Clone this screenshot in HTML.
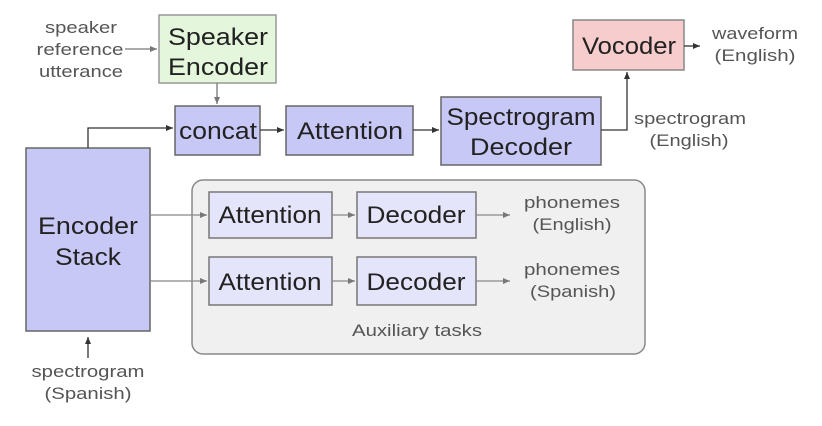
<!DOCTYPE html>
<html><head><style>
body{margin:0;background:#fff;}
svg text{font-family:"Liberation Sans",sans-serif;}
</style></head><body>
<svg width="822" height="421" viewBox="0 0 822 421" xmlns="http://www.w3.org/2000/svg">
<defs>
<marker id="a" markerWidth="8" markerHeight="8" refX="7" refY="4" orient="auto" markerUnits="userSpaceOnUse"><path d="M0,1 L7,4 L0,7 z" fill="#333"/></marker>
<marker id="g" markerWidth="8" markerHeight="8" refX="7" refY="4" orient="auto" markerUnits="userSpaceOnUse"><path d="M0,1 L7,4 L0,7 z" fill="#777"/></marker>
</defs>
<rect x="192" y="180" width="453" height="174" rx="11" fill="#f0f0f0" stroke="#888" stroke-width="1.5"/>
<rect x="159" y="15" width="117" height="68" fill="#e4f6dc" stroke="#999" stroke-width="1.5"/>
<rect x="175" y="106" width="85" height="49" fill="#c8c8f6" stroke="#666" stroke-width="1.5"/>
<rect x="286" y="106" width="127" height="49" fill="#c8c8f6" stroke="#666" stroke-width="1.5"/>
<rect x="441" y="97" width="160" height="68" fill="#c8c8f6" stroke="#666" stroke-width="1.5"/>
<rect x="573" y="20" width="111" height="50" fill="#f6cccc" stroke="#888" stroke-width="1.5"/>
<rect x="26" y="148" width="124" height="183" fill="#c8c8f6" stroke="#666" stroke-width="1.5"/>
<rect x="209" y="192" width="123" height="46" fill="#e4e4fa" stroke="#777" stroke-width="1.5"/>
<rect x="357" y="192" width="119" height="46" fill="#e4e4fa" stroke="#777" stroke-width="1.5"/>
<rect x="209" y="257" width="123" height="48" fill="#e4e4fa" stroke="#777" stroke-width="1.5"/>
<rect x="357" y="257" width="119" height="48" fill="#e4e4fa" stroke="#777" stroke-width="1.5"/>
<g fill="none" stroke-width="1.3">
<path d="M125,49 H157" stroke="#777" marker-end="url(#g)"/>
<path d="M217,83 V104" stroke="#777" marker-end="url(#g)"/>
<path d="M88,148 V128 H173" stroke="#333" marker-end="url(#a)"/>
<path d="M260,130 H284" stroke="#333" marker-end="url(#a)"/>
<path d="M413,130 H439" stroke="#333" marker-end="url(#a)"/>
<path d="M601,130 H627 V72" stroke="#333" marker-end="url(#a)"/>
<path d="M684,46 H700" stroke="#333" marker-end="url(#a)"/>
<path d="M88,358 V337" stroke="#333" marker-end="url(#a)"/>
<path d="M150,215 H207" stroke="#888" marker-end="url(#g)"/>
<path d="M150,281 H207" stroke="#888" marker-end="url(#g)"/>
<path d="M332,215 H355" stroke="#888" marker-end="url(#g)"/>
<path d="M332,281 H355" stroke="#888" marker-end="url(#g)"/>
<path d="M476,215 H510" stroke="#888" marker-end="url(#g)"/>
<path d="M476,281 H510" stroke="#888" marker-end="url(#g)"/>
</g>
<g font-size="24" fill="#222" text-anchor="middle" lengthAdjust="spacingAndGlyphs">
<text x="218" y="45" textLength="100" lengthAdjust="spacingAndGlyphs">Speaker</text><text x="218" y="75" textLength="100" lengthAdjust="spacingAndGlyphs">Encoder</text>
<text x="218" y="139" textLength="78" lengthAdjust="spacingAndGlyphs">concat</text>
<text x="350" y="139" textLength="106" lengthAdjust="spacingAndGlyphs">Attention</text>
<text x="521" y="125" textLength="149" lengthAdjust="spacingAndGlyphs">Spectrogram</text><text x="521" y="155" textLength="102" lengthAdjust="spacingAndGlyphs">Decoder</text>
<text x="629" y="54" textLength="94" lengthAdjust="spacingAndGlyphs">Vocoder</text>
<text x="88" y="234" textLength="100" lengthAdjust="spacingAndGlyphs">Encoder</text><text x="88" y="265" textLength="66" lengthAdjust="spacingAndGlyphs">Stack</text>
<text x="270" y="223" textLength="103" lengthAdjust="spacingAndGlyphs">Attention</text><text x="416" y="223" textLength="99" lengthAdjust="spacingAndGlyphs">Decoder</text>
<text x="270" y="290" textLength="103" lengthAdjust="spacingAndGlyphs">Attention</text><text x="416" y="290" textLength="99" lengthAdjust="spacingAndGlyphs">Decoder</text>
</g>
<g font-size="17" fill="#555" text-anchor="middle">
<text x="81" y="33" textLength="72" lengthAdjust="spacingAndGlyphs">speaker</text><text x="80" y="55" textLength="87" lengthAdjust="spacingAndGlyphs">reference</text><text x="81" y="77" textLength="84" lengthAdjust="spacingAndGlyphs">utterance</text>
<text x="755" y="39" textLength="86" lengthAdjust="spacingAndGlyphs">waveform</text><text x="755" y="61" textLength="81" lengthAdjust="spacingAndGlyphs">(English)</text>
<text x="690" y="124" textLength="112" lengthAdjust="spacingAndGlyphs">spectrogram</text><text x="689" y="146" textLength="79" lengthAdjust="spacingAndGlyphs">(English)</text>
<text x="572" y="208" textLength="96" lengthAdjust="spacingAndGlyphs">phonemes</text><text x="572" y="230" textLength="79" lengthAdjust="spacingAndGlyphs">(English)</text>
<text x="572" y="275" textLength="96" lengthAdjust="spacingAndGlyphs">phonemes</text><text x="573" y="297" textLength="86" lengthAdjust="spacingAndGlyphs">(Spanish)</text>
<text x="417" y="336" textLength="130" lengthAdjust="spacingAndGlyphs">Auxiliary tasks</text>
<text x="88" y="377" textLength="113" lengthAdjust="spacingAndGlyphs">spectrogram</text><text x="88" y="399" textLength="87" lengthAdjust="spacingAndGlyphs">(Spanish)</text>
</g>
</svg>
</body></html>
